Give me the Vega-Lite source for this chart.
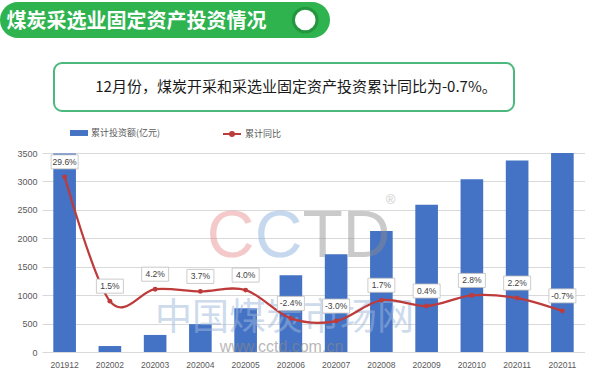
{
  "$schema": "https://vega.github.io/schema/vega-lite/v6.json",
  "padding": {"top": 2, "left": 0, "right": 0, "bottom": 0},
  "background": "white",
  "config": {"view": {"stroke": null}, "font": "Noto Sans CJK SC"},
  "spacing": 12,
  "resolve": {"legend": {"fill": "independent", "stroke": "independent"}, "scale": {"fill": "independent", "stroke": "independent", "y": "independent"}},
  "vconcat": [
    {
      "spacing": 24,
      "vconcat": [
        {
          "width": 330,
          "height": 36,
          "data": {"values": [{"t": "煤炭采选业固定资产投资情况"}]},
          "layer": [
            {
              "mark": {"type": "bar", "orient": "horizontal", "height": 36, "color": "#2EB34F", "cornerRadiusEnd": 18},
              "encoding": {
                "x": {"datum": 0, "type": "quantitative", "scale": {"domain": [0, 1], "nice": false}, "axis": null},
                "x2": {"datum": 1}
              }
            },
            {
              "mark": {"type": "text", "align": "left", "baseline": "middle", "fontSize": 20, "fontWeight": "bold", "color": "white", "font": "Noto Sans CJK SC", "dy": 2},
              "encoding": {
                "x": {"datum": 0.02, "type": "quantitative", "scale": {"domain": [0, 1], "nice": false}, "axis": null},
                "text": {"field": "t"}
              }
            },
            {
              "mark": {"type": "point", "filled": true, "fill": "white", "stroke": "#23963F", "strokeWidth": 3, "size": 560, "opacity": 1, "strokeOpacity": 1, "fillOpacity": 1},
              "encoding": {
                "x": {"datum": 0.925, "type": "quantitative", "scale": {"domain": [0, 1], "nice": false}, "axis": null}
              }
            }
          ]
        },
        {
          "spacing": 0,
          "hconcat": [
            {
              "width": 53,
              "height": 48,
              "data": {"values": [{"t": ""}]},
              "mark": {"type": "text"},
              "encoding": {"text": {"field": "t"}}
            },
            {
              "width": 460,
              "height": 48,
              "view": {"stroke": "#4DB87E", "strokeWidth": 2, "cornerRadius": 8, "fill": "white"},
              "data": {"values": [{"t": "12月份，煤炭开采和采选业固定资产投资累计同比为-0.7%。"}]},
              "mark": {"type": "text", "fontSize": 15, "color": "#1a1a1a", "font": "Noto Sans CJK SC", "dx": 12, "baseline": "middle"},
              "encoding": {"text": {"field": "t"}}
            }
          ]
        }
      ]
    },
    {
      "spacing": 0,
      "resolve": {"scale": {"y": "independent", "x": "independent"}},
      "hconcat": [
        {
          "width": 42,
          "height": 199,
          "data": {"values": [{"v": 0}]},
          "mark": {"type": "point", "opacity": 0},
          "encoding": {
            "y": {
              "field": "v", "type": "quantitative",
              "scale": {"domain": [0, 3500], "nice": false},
              "axis": {"title": null, "format": "d", "values": [0, 500, 1000, 1500, 2000, 2500, 3000, 3500], "grid": false, "domain": false, "ticks": false, "labelAlign": "right", "labelPadding": -37, "labelFontSize": 9, "labelColor": "#595959", "labelFont": "Liberation Sans"}
            }
          }
        },
        {
          "width": 543,
          "height": 199,
          "data": {
            "values": [
              {"m": "201912", "inv": 3490, "yoy": 29.6},
              {"m": "202002", "inv": 105, "yoy": 1.5},
              {"m": "202003", "inv": 300, "yoy": 4.2},
              {"m": "202004", "inv": 490, "yoy": 3.7},
              {"m": "202005", "inv": 770, "yoy": 4.0},
              {"m": "202006", "inv": 1350, "yoy": -2.4},
              {"m": "202007", "inv": 1720, "yoy": -3.0},
              {"m": "202008", "inv": 2130, "yoy": 1.7},
              {"m": "202009", "inv": 2590, "yoy": 0.4},
              {"m": "202010", "inv": 3040, "yoy": 2.8},
              {"m": "202011", "inv": 3370, "yoy": 2.2},
              {"m": "202011 ", "inv": 3500, "yoy": -0.7}
            ]
          },
          "transform": [{"calculate": "replace(format(datum.yoy, '.1f'), '\u2212', '-') + '%'", "as": "lab"}],
          "layer": [
            {
              "mark": {"type": "bar"},
              "encoding": {
                "x": {
                  "field": "m", "type": "nominal", "sort": null,
                  "scale": {"paddingInner": 0.5, "paddingOuter": 0.25},
                  "axis": {"title": null, "labelAngle": 0, "ticks": false, "domain": false, "labelPadding": 8, "labelFontSize": 8.5, "labelColor": "#595959", "labelFont": "Liberation Sans"}
                },
                "y": {
                  "field": "inv", "type": "quantitative",
                  "scale": {"domain": [0, 3500], "nice": false},
                  "axis": {"title": null, "values": [0, 500, 1000, 1500, 2000, 2500, 3000, 3500], "grid": true, "gridColor": "#d9d9d9", "domain": false, "ticks": false, "labels": false}
                },
                "fill": {
                  "datum": "累计投资额(亿元)",
                  "scale": {"range": ["#4472C4"]},
                  "legend": {"title": null, "orient": "none", "legendX": 70, "legendY": -29, "symbolType": "M-1,-0.33H1V0.33H-1Z", "symbolSize": 324, "symbolStrokeWidth": 0, "labelFontSize": 9, "labelColor": "#595959", "labelFont": "Noto Sans CJK SC", "labelOffset": 3, "padding": 0}
                }
              }
            },
            {
              "data": {"values": [{"w": "C"}]},
              "mark": {"type": "text", "align": "right", "baseline": "middle", "fontSize": 66, "font": "Liberation Sans", "color": "#E58A8A", "opacity": 0.45, "dx": -59},
              "encoding": {
                "y": {"datum": 2020, "type": "quantitative", "scale": {"domain": [0, 3500], "nice": false}, "axis": null},
                "text": {"field": "w"}
              }
            },
            {
              "data": {"values": [{"w": "C"}]},
              "mark": {"type": "text", "align": "right", "baseline": "middle", "fontSize": 66, "font": "Liberation Sans", "color": "#8FB3DE", "opacity": 0.5, "dx": -11},
              "encoding": {
                "y": {"datum": 2020, "type": "quantitative", "scale": {"domain": [0, 3500], "nice": false}, "axis": null},
                "text": {"field": "w"}
              }
            },
            {
              "data": {"values": [{"w": "TD"}]},
              "mark": {"type": "text", "align": "left", "baseline": "middle", "fontSize": 66, "font": "Liberation Sans", "color": "#8C8C8C", "opacity": 0.45, "dx": -11},
              "encoding": {
                "y": {"datum": 2020, "type": "quantitative", "scale": {"domain": [0, 3500], "nice": false}, "axis": null},
                "text": {"field": "w"}
              }
            },
            {
              "data": {"values": [{"w": "®"}]},
              "mark": {"type": "text", "baseline": "middle", "fontSize": 13, "font": "Liberation Sans", "color": "#9A9A9A", "opacity": 0.5, "dx": 77},
              "encoding": {
                "y": {"datum": 2680, "type": "quantitative", "scale": {"domain": [0, 3500], "nice": false}, "axis": null},
                "text": {"field": "w"}
              }
            },
            {
              "data": {"values": [{"w": "中国煤炭市场网"}]},
              "mark": {"type": "text", "baseline": "middle", "fontSize": 37, "font": "Noto Sans CJK SC", "color": "#9DB8DC", "opacity": 0.5, "dx": -29},
              "encoding": {
                "y": {"datum": 580, "type": "quantitative", "scale": {"domain": [0, 3500], "nice": false}, "axis": null},
                "text": {"field": "w"}
              }
            },
            {
              "data": {"values": [{"w": "www.cctd.com.cn"}]},
              "mark": {"type": "text", "baseline": "middle", "fontSize": 16, "font": "Liberation Sans", "color": "#8A8A8A", "opacity": 0.6, "dx": -32},
              "encoding": {
                "y": {"datum": 85, "type": "quantitative", "scale": {"domain": [0, 3500], "nice": false}, "axis": null},
                "text": {"field": "w"}
              }
            },
            {
              "mark": {"type": "line", "interpolate": "cardinal", "strokeWidth": 2.25},
              "encoding": {
                "x": {"field": "m", "type": "nominal", "sort": null},
                "y": {"field": "yoy", "type": "quantitative", "scale": {"domain": [-10, 35], "nice": false}, "axis": null},
                "stroke": {
                  "datum": "累计同比",
                  "scale": {"range": ["#BE3B3B"]},
                  "legend": {"title": null, "orient": "none", "legendX": 222, "legendY": -29, "symbolType": "M-1,0H1M-0.22,0A0.22,0.22 0 1,1 0.22,0A0.22,0.22 0 1,1 -0.22,0", "symbolSize": 324, "symbolStrokeWidth": 2, "symbolFillColor": "#BE3B3B", "labelFontSize": 9, "labelColor": "#595959", "labelFont": "Noto Sans CJK SC", "labelOffset": 3, "padding": 0}
                }
              }
            },
            {
              "mark": {"type": "circle", "size": 24, "color": "#BE3B3B", "opacity": 1},
              "encoding": {
                "x": {"field": "m", "type": "nominal", "sort": null},
                "y": {"field": "yoy", "type": "quantitative", "scale": {"domain": [-10, 35], "nice": false}, "axis": null}
              }
            },
            {
              "mark": {"type": "point", "shape": "M-1,-0.52H1V0.52H-1Z", "size": 729, "filled": true, "fill": "white", "stroke": "#BFBFBF", "strokeWidth": 0.8, "opacity": 1, "fillOpacity": 1, "strokeOpacity": 1, "yOffset": -15},
              "encoding": {
                "x": {"field": "m", "type": "nominal", "sort": null},
                "y": {"field": "yoy", "type": "quantitative", "scale": {"domain": [-10, 35], "nice": false}, "axis": null}
              }
            },
            {
              "mark": {"type": "text", "fontSize": 8.5, "color": "#404040", "baseline": "middle", "yOffset": -15, "font": "Liberation Sans"},
              "encoding": {
                "x": {"field": "m", "type": "nominal", "sort": null},
                "y": {"field": "yoy", "type": "quantitative", "scale": {"domain": [-10, 35], "nice": false}, "axis": null},
                "text": {"field": "lab"}
              }
            }
          ],
          "resolve": {"scale": {"y": "independent"}}
        }
      ]
    }
  ]
}
